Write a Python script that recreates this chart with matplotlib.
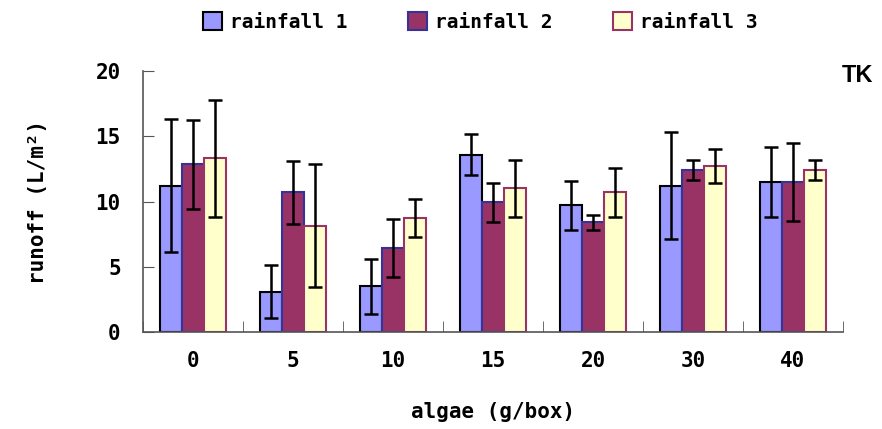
import numpy as np
import matplotlib.pyplot as plt

plt.rcParams['font.family'] = ['DejaVu Sans Mono', 'DejaVu Sans']
plt.rcParams['font.weight'] = 'bold'

# 数据
algae = ['0', '5', '10', '15', '20', '30', '40']
rain1 = [11.2, 3.1, 3.5, 13.6, 9.7, 11.2, 11.5]
rain1_err = [5.1, 2.0, 2.1, 1.6, 1.9, 4.1, 2.7]
rain2 = [12.85, 10.7, 6.45, 9.95, 8.4, 12.4, 11.5]
rain2_err = [3.4, 2.4, 2.2, 1.5, 0.55, 0.77, 3.0]
rain3 = [13.3, 8.15, 8.75, 11.0, 10.7, 12.7, 12.4]
rain3_err = [4.45, 4.7, 1.45, 2.15, 1.85, 1.3, 0.77]

fig = plt.figure(figsize=(8.82, 4.29), dpi=100)
ax = fig.add_axes([143 / 882, 97 / 429, 700 / 882, 261 / 429])

x = np.arange(len(algae))
w = 0.22
styles = [
    ('rainfall 1', rain1, rain1_err, '#9999FF', '#000000'),
    ('rainfall 2', rain2, rain2_err, '#993366', '#333399'),
    ('rainfall 3', rain3, rain3_err, '#FFFFCC', '#993366'),
]
for i, (name, vals, errs, fc, ec) in enumerate(styles):
    ax.bar(x + (i - 1) * w, vals, w, color=fc, edgecolor=ec, linewidth=1.5,
           label=name, zorder=2)
    ax.errorbar(x + (i - 1) * w, vals, yerr=errs, fmt='none', ecolor='black',
                elinewidth=1.8, capsize=5, capthick=1.8, zorder=3)

ax.set_xlim(-0.5, len(algae) - 0.5)
ax.set_ylim(0, 20)
ax.set_yticks([0, 5, 10, 15, 20])
ax.set_xticks(x)
ax.set_xticklabels(algae)
ax.set_xticks(np.arange(-0.5, len(algae)), minor=True)
ax.tick_params(axis='x', which='major', length=0, pad=14, labelsize=15)
ax.tick_params(axis='x', which='minor', direction='in', length=8, color='#555555')
ax.tick_params(axis='y', direction='in', length=8, pad=16, labelsize=15, color='#555555')
for s in ['top', 'right']:
    ax.spines[s].set_visible(False)
for s in ['left', 'bottom']:
    ax.spines[s].set_color('#555555')
    ax.spines[s].set_linewidth(1.2)

ax.set_xlabel('algae (g/box)', fontsize=15, fontweight='bold', labelpad=22)
ax.set_ylabel('runoff (L/m²)', fontsize=15, fontweight='bold', labelpad=34)
fig.text(857 / 882, 1 - 75 / 429, 'TK', fontsize=17, fontweight='bold',
         family='Liberation Sans', ha='center', va='center')

fig.legend(loc='center', bbox_to_anchor=(480 / 882, 1 - 22 / 429), ncol=3,
           frameon=False, fontsize=14, handlelength=1.0, handleheight=1.0,
           handletextpad=0.4, columnspacing=3.1)

fig.savefig('out.png', dpi=100)
